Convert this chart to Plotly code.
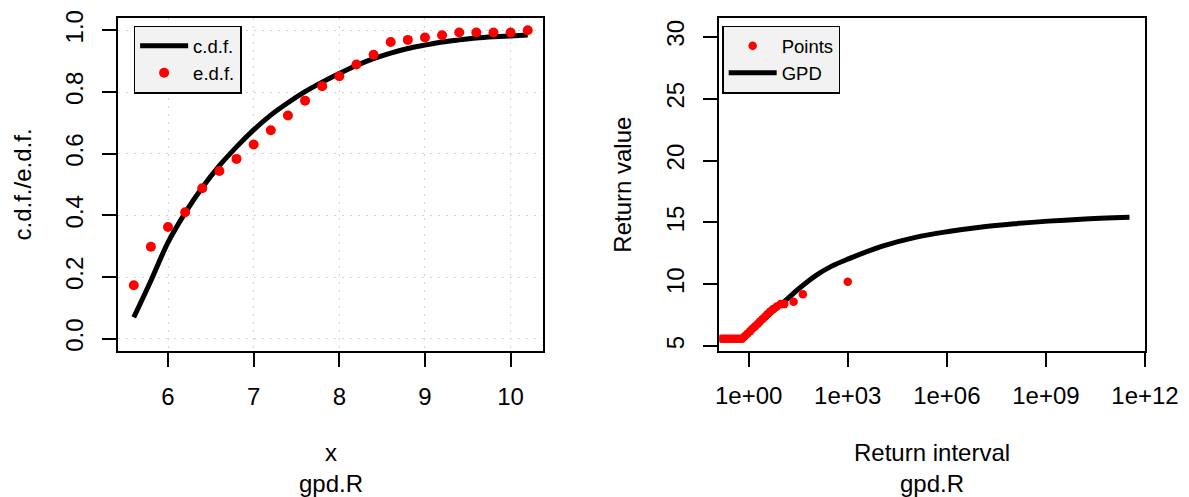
import plotly.graph_objects as go

# ---- left panel: fitted c.d.f. against the empirical d.f. ----
x_vals = [5.6, 5.8, 6.0, 6.2, 6.4, 6.6, 6.8, 7.0, 7.2, 7.4, 7.6, 7.8,
          8.0, 8.2, 8.4, 8.6, 8.8, 9.0, 9.2, 9.4, 9.6, 9.8, 10.0, 10.2]
edf_vals = [0.173, 0.298, 0.362, 0.410, 0.488, 0.544, 0.583, 0.630,
            0.676, 0.724, 0.772, 0.819, 0.851, 0.889, 0.921, 0.962,
            0.969, 0.977, 0.984, 0.993, 0.993, 0.993, 0.993, 1.000]
cdf_vals = [0.069, 0.188, 0.312, 0.408, 0.490, 0.561, 0.622, 0.677,
            0.725, 0.765, 0.801, 0.832, 0.860, 0.886, 0.908, 0.926,
            0.941, 0.952, 0.962, 0.969, 0.975, 0.979, 0.982, 0.985]
left_yticks = [0.0, 0.2, 0.4, 0.6, 0.8, 1.0]
left_xticks = [6, 7, 8, 9, 10]

# ---- right panel: return level plot ----
point_interval = [0.148, 0.174, 0.204, 0.240, 0.282, 0.331, 0.389, 0.457,
                  0.537, 0.631, 0.759, 0.912, 1.10, 1.29, 1.55, 1.86,
                  2.19, 2.63, 3.16, 3.72, 4.47, 5.50, 7.08, 9.33, 12.0,
                  22.9, 43.7, 1000.0]
point_value = [5.6, 5.6, 5.6, 5.6, 5.6, 5.6, 5.6, 5.6,
               5.6, 5.6, 5.8, 6.0, 6.2, 6.4, 6.6, 6.8,
               7.0, 7.2, 7.4, 7.6, 7.8, 8.0, 8.2, 8.4, 8.4,
               8.6, 9.2, 10.2]
gpd_interval = [0.63, 1.0, 2.0, 3.98, 7.94, 15.5, 31.6, 110, 316, 1100,
                1.12e4, 1.12e5, 1.12e6, 1.15e7, 1.15e8, 1.17e9, 1.17e10,
                3.39e11]
gpd_value = [5.55, 6.05, 6.8, 7.5, 8.2, 8.87, 9.6, 10.72, 11.45, 12.08,
             13.09, 13.80, 14.27, 14.64, 14.90, 15.11, 15.27, 15.43]
right_yticks = [5, 10, 15, 20, 25, 30]
right_xticks = [1, 1e3, 1e6, 1e9, 1e12]
right_xtext = ["1e+00", "1e+03", "1e+06", "1e+09", "1e+12"]

FONT = "Liberation Sans, Arial, Helvetica, sans-serif"
TXT = 24
LEG = 18.5

fig = go.Figure()

fig.add_trace(go.Scatter(
    x=x_vals, y=cdf_vals, mode="lines", name="c.d.f.",
    line=dict(color="black", width=5, shape="spline"),
    xaxis="x", yaxis="y", legend="legend", legendrank=1))
fig.add_trace(go.Scatter(
    x=x_vals, y=edf_vals, mode="markers", name="e.d.f.",
    marker=dict(color="red", size=10, line=dict(width=0)),
    xaxis="x", yaxis="y", legend="legend", legendrank=2))

# GPD curve first so the observed points sit on top of it
fig.add_trace(go.Scatter(
    x=gpd_interval, y=gpd_value, mode="lines", name="GPD",
    line=dict(color="black", width=5, shape="spline"),
    xaxis="x2", yaxis="y2", legend="legend2", legendrank=2))
fig.add_trace(go.Scatter(
    x=point_interval, y=point_value, mode="markers", name="Points",
    marker=dict(color="red", size=8.5, line=dict(width=0)),
    xaxis="x2", yaxis="y2", legend="legend2", legendrank=1))

axis_common = dict(
    showline=True, linecolor="black", linewidth=1.5, mirror=True,
    ticks="outside", ticklen=14, tickwidth=1.5, tickcolor="black",
    zeroline=False,
    tickfont=dict(family=FONT, size=TXT, color="black"),
)

legend_common = dict(
    xanchor="left", yanchor="top", bgcolor="#F2F2F2",
    bordercolor="black", borderwidth=1.5,
    font=dict(family=FONT, size=LEG, color="black"),
    tracegroupgap=0, traceorder="normal", itemwidth=48,
)

fig.update_layout(
    width=1189, height=497,
    margin=dict(l=118, r=38, t=10, b=146),
    paper_bgcolor="white", plot_bgcolor="white",
    font=dict(family=FONT, size=TXT, color="black"),
    xaxis=dict(domain=[0, 0.4143], range=[5.416, 10.384],
               tickvals=left_xticks, showgrid=True, gridcolor="#D3D3D3",
               griddash="2px,6px", gridwidth=1, ticklabelstandoff=9,
               anchor="y", **axis_common),
    yaxis=dict(domain=[0, 1], range=[-0.04, 1.04], tickvals=left_yticks,
               tickformat=".1f", showgrid=True, gridcolor="#D3D3D3",
               griddash="2px,6px", gridwidth=1, tickangle=-90,
               ticklabelstandoff=10, anchor="x", **axis_common),
    xaxis2=dict(domain=[0.5854, 1], type="log", range=[-0.892, 12.0],
                tickvals=right_xticks, ticktext=right_xtext,
                showgrid=False, ticklabelstandoff=8, anchor="y2",
                **axis_common),
    yaxis2=dict(domain=[0, 1], range=[4.61, 31.53], tickvals=right_yticks,
                showgrid=False, tickangle=-90, ticklabelstandoff=10,
                anchor="x2", **axis_common),
    legend=dict(x=0.0152, y=0.977, **legend_common),
    legend2=dict(x=0.5883, y=0.977, **legend_common),
    showlegend=True,
)

# axis titles and sub-titles
titles = [
    dict(text="x", x=0.2071, y=0, yshift=-101),
    dict(text="gpd.R", x=0.2071, y=0, yshift=-132),
    dict(text="Return interval", x=0.7927, y=0, yshift=-101),
    dict(text="gpd.R", x=0.7927, y=0, yshift=-132),
]
for t in titles:
    fig.add_annotation(text=t["text"], xref="paper", yref="paper",
                       x=t["x"], y=t["y"], yshift=t["yshift"],
                       xanchor="center", yanchor="middle", showarrow=False,
                       font=dict(family=FONT, size=TXT, color="black"))

fig.add_annotation(text="c.d.f./e.d.f.", xref="paper", yref="paper",
                   x=0, y=0.5, xshift=-96, xanchor="center",
                   yanchor="middle", textangle=-90, showarrow=False,
                   font=dict(family=FONT, size=TXT, color="black"))
fig.add_annotation(text="Return value", xref="paper", yref="paper",
                   x=0.5854, y=0.5, xshift=-97, xanchor="center",
                   yanchor="middle", textangle=-90, showarrow=False,
                   font=dict(family=FONT, size=TXT, color="black"))

fig.write_html("out.html")
